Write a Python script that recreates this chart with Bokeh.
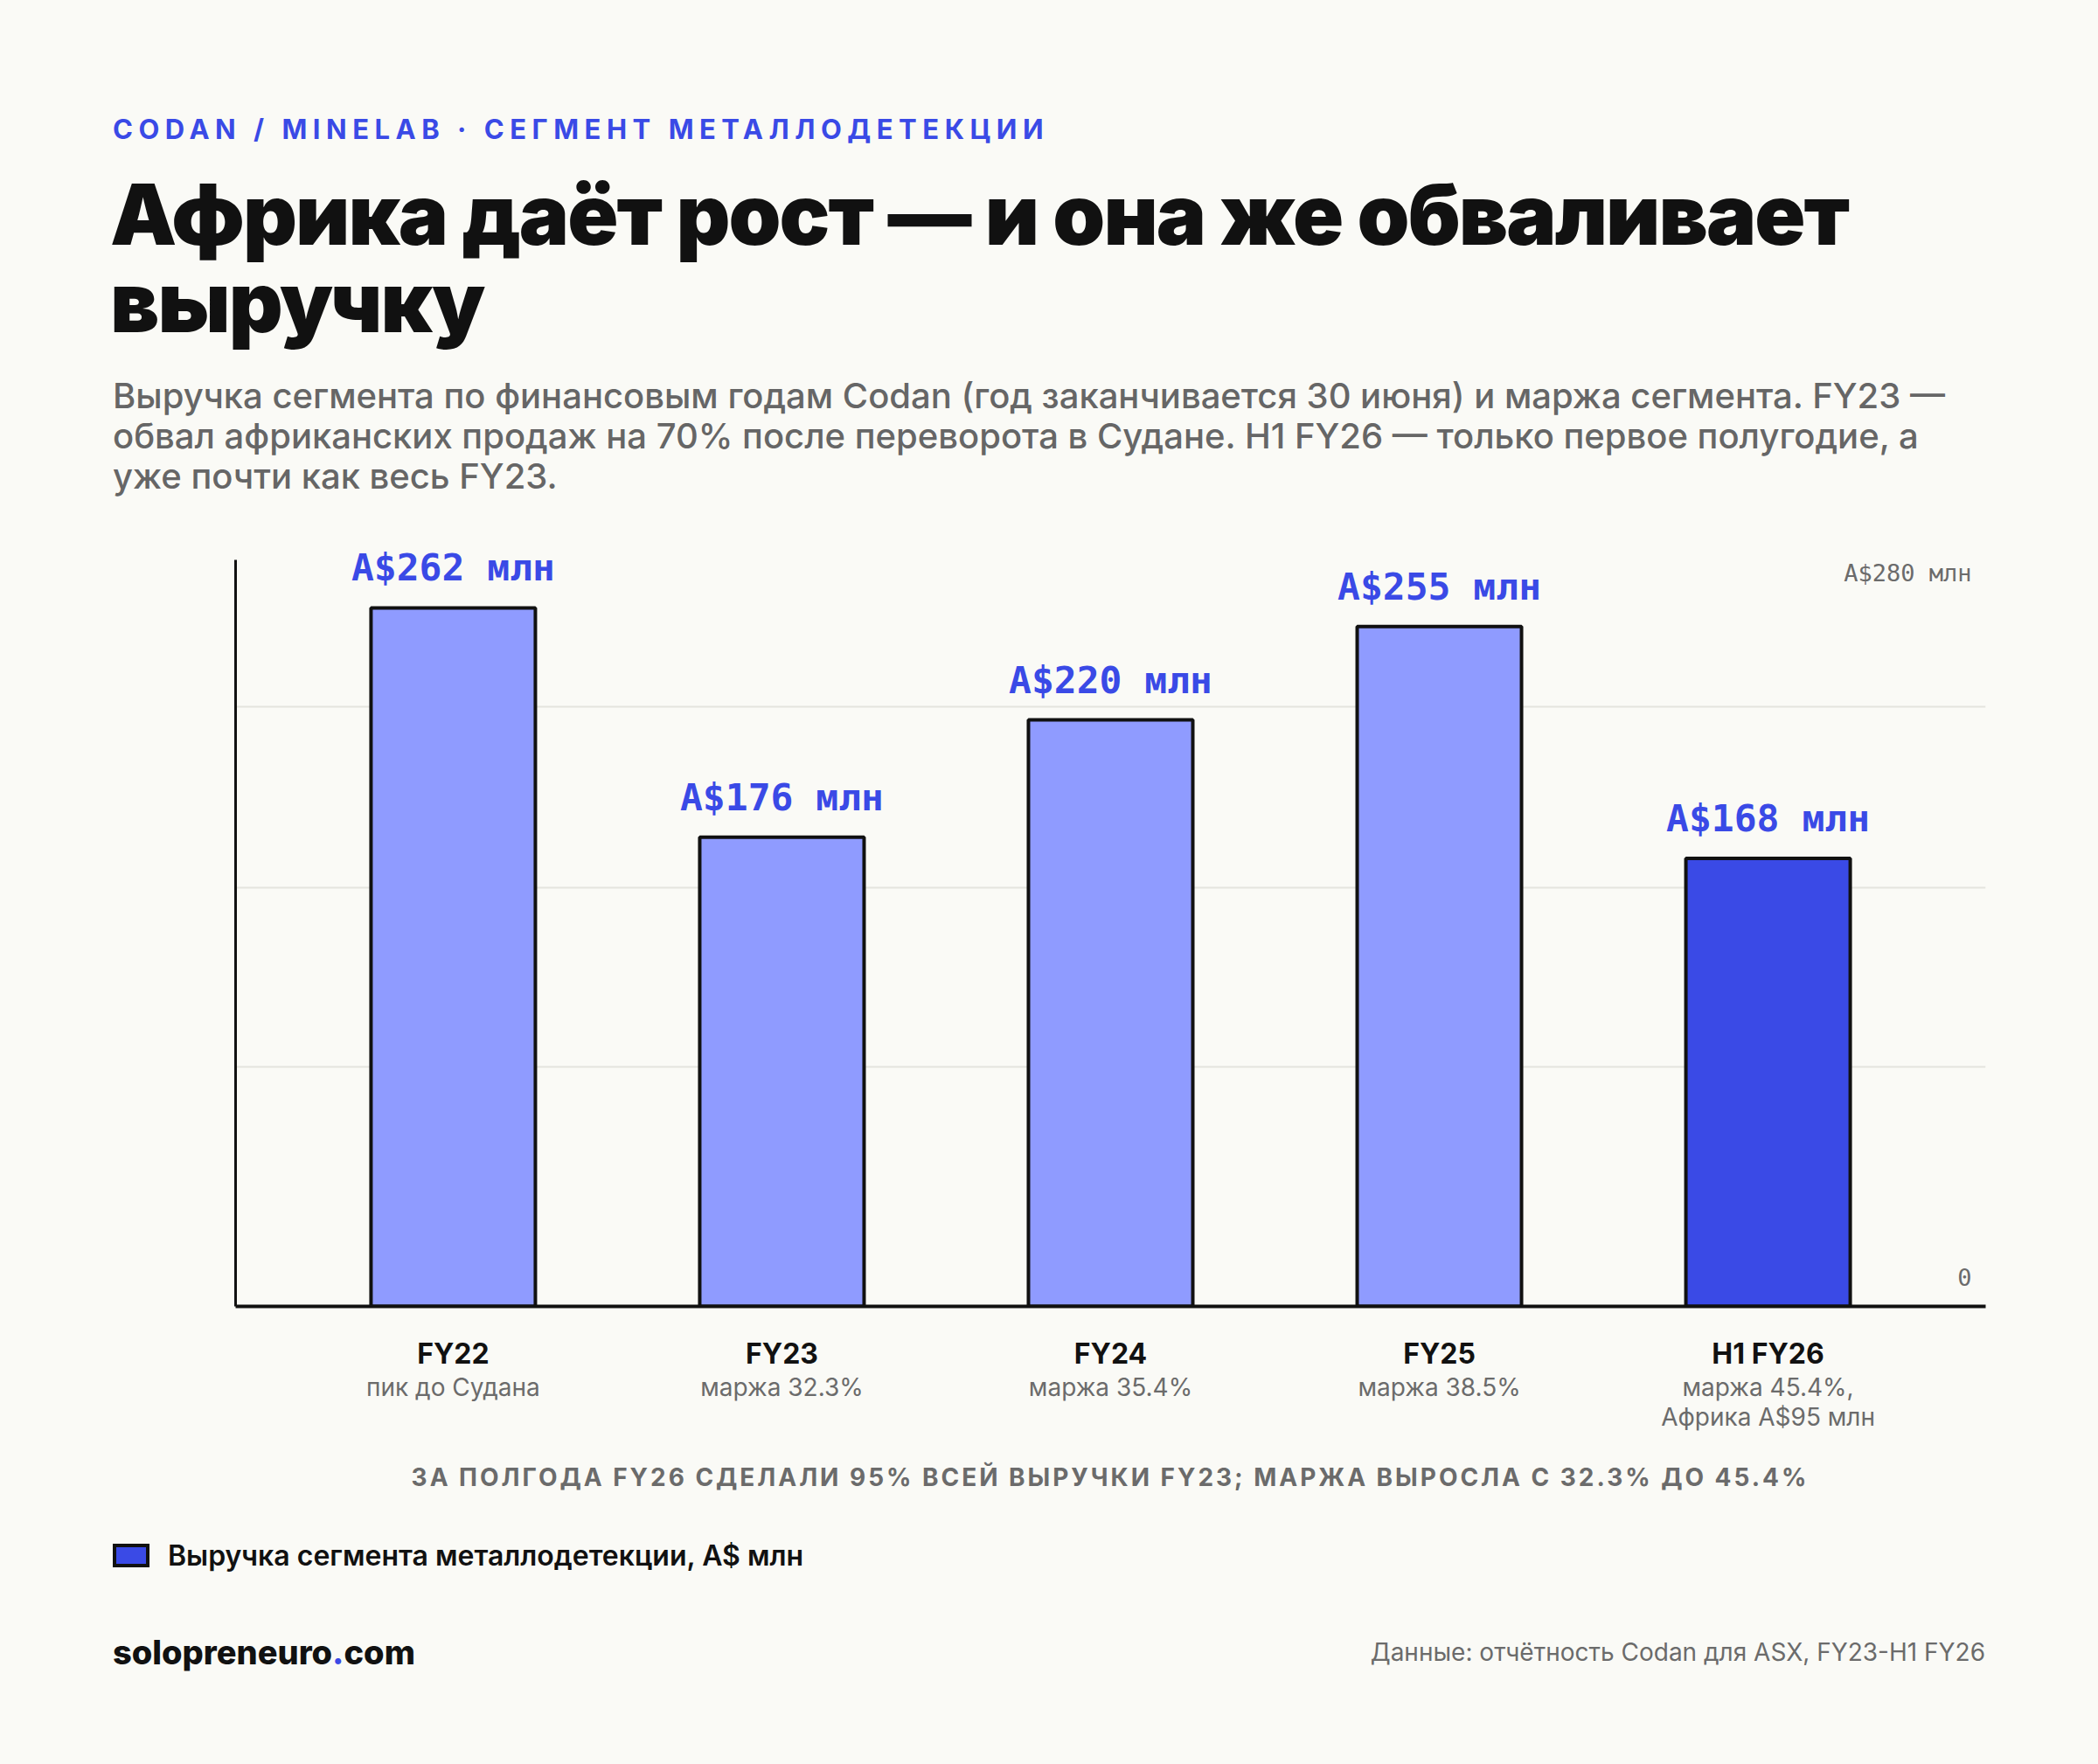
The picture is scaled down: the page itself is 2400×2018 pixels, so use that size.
from bokeh.plotting import figure
from bokeh.models import (ColumnDataSource, LabelSet, FixedTicker, Div, Range1d,
                          FactorRange, CategoricalAxis)
from bokeh.layouts import column
from bokeh.core.properties import value
from bokeh.embed import file_html
from bokeh.resources import INLINE

# ---------------- data ----------------
CATEGORIES = ["FY22", "FY23", "FY24", "FY25", "H1 FY26"]
REVENUE = [262, 176, 220, 255, 168]
SUBLABELS = ["пик до Судана", "маржа 32.3%", "маржа 35.4%", "маржа 38.5%",
             "маржа 45.4%,\nАфрика A$95 млн"]
HIGHLIGHT = [False, False, False, False, True]
Y_MAX = 280
GRID_VALUES = [90, 157, 225]
Y_LABEL_VALUES = [280, 0]
Y_LABELS = ["A$280 млн", "0"]

KICKER = "CODAN / MINELAB · СЕГМЕНТ МЕТАЛЛОДЕТЕКЦИИ"
TITLE = ["Африка даёт рост — и она же обваливает", "выручку"]
SUBTITLE = ["Выручка сегмента по финансовым годам Codan (год заканчивается 30 июня) и маржа сегмента. FY23 —",
            "обвал африканских продаж на 70% после переворота в Судане. H1 FY26 — только первое полугодие, а",
            "уже почти как весь FY23."]
SUMMARY = "ЗА ПОЛГОДА FY26 СДЕЛАЛИ 95% ВСЕЙ ВЫРУЧКИ FY23; МАРЖА ВЫРОСЛА С 32.3% ДО 45.4%"
LEGEND = "Выручка сегмента металлодетекции, A$ млн"
SOURCE = "Данные: отчётность Codan для ASX, FY23-H1 FY26"
SITE = ("solopreneuro", ".", "com")

# ---------------- style ----------------
BG = "#fafaf6"
BLUE = "#3a4ae6"
BAR_LIGHT = "#8f9bff"
INK = "#111111"
GRAY = "#6b6b6b"
GRIDC = "#e4e4de"
FONT = "Inter"
MONO = "DejaVu Sans Mono"
PAD = 0.162            # outer padding of the category axis, in bar steps
FRAME_H = 904          # plot frame height in px (0 .. y end)
PLOT_H = 854           # px from 0 to Y_MAX
Y_END = Y_MAX * FRAME_H / PLOT_H

src = ColumnDataSource(dict(
    cat=CATEGORIES,
    top=REVENUE,
    color=[BLUE if h else BAR_LIGHT for h in HIGHLIGHT],
    label=[f"A${v} млн" for v in REVENUE],
))

p = figure(frame_width=2002, frame_height=FRAME_H,
           x_range=FactorRange(factors=CATEGORIES, range_padding=PAD,
                               range_padding_units="absolute"),
           y_range=Range1d(0, Y_END),
           min_border_left=269, min_border_right=129, min_border_top=10, min_border_bottom=156,
           output_backend="svg", toolbar_location=None, tools="")
p.background_fill_color = BG
p.border_fill_color = BG
p.outline_line_color = None

p.vbar(x="cat", top="top", bottom=0, width=0.5, source=src,
       fill_color="color", line_color=INK, line_width=4)

# x axis: category names
xa = p.xaxis[0]
xa.major_tick_line_color = None
xa.minor_tick_line_color = None
xa.axis_line_color = INK
xa.axis_line_width = 4
xa.major_label_text_font = FONT
xa.major_label_text_font_style = "bold"
xa.major_label_text_font_size = "32px"
xa.major_label_text_color = INK
xa.major_label_standoff = 28

# second x axis on a parallel factor range: notes under each category
p.extra_x_ranges = {"notes": FactorRange(factors=SUBLABELS, range_padding=PAD,
                                         range_padding_units="absolute")}
xa2 = CategoricalAxis(x_range_name="notes")
xa2.axis_line_color = None
xa2.major_tick_line_color = None
xa2.minor_tick_line_color = None
xa2.major_label_text_font = FONT
xa2.major_label_text_font_size = "28px"
xa2.major_label_text_color = GRAY
xa2.major_label_text_line_height = 1.02
xa2.major_label_standoff = -7
p.add_layout(xa2, "below")

# y axis: line only, from 0 to Y_MAX
ya = p.yaxis[0]
ya.ticker = FixedTicker(ticks=[])
ya.bounds = (0, Y_MAX)
ya.major_tick_line_color = None
ya.minor_tick_line_color = None
ya.axis_line_color = INK
ya.axis_line_width = 3
p.xgrid.grid_line_color = None
p.ygrid.ticker = FixedTicker(ticks=GRID_VALUES)
p.ygrid.grid_line_color = GRIDC
p.ygrid.grid_line_width = 2
p.ygrid.level = "underlay"

# value labels above bars
p.add_layout(LabelSet(x="cat", y="top", text="label", source=src, y_offset=31,
                      text_align="center", text_baseline="alphabetic",
                      text_font=value(MONO), text_font_style="bold",
                      text_font_size="43px", text_color=BLUE))
# scale labels inside the plot, right side
X_END = len(CATEGORIES) + PAD
ysrc = ColumnDataSource(dict(x=[X_END] * len(Y_LABELS), y=Y_LABEL_VALUES, text=Y_LABELS,
                             off=[-24 if v == Y_MAX else 24 for v in Y_LABEL_VALUES]))
p.add_layout(LabelSet(x="x", y="y", text="text", source=ysrc, x_offset=-16, y_offset="off",
                      text_align="right", text_baseline="alphabetic",
                      text_font=value(MONO), text_font_size="27px", text_color=GRAY))

header_html = f"""
<div style="position:relative;width:2400px;height:580px;font-family:{FONT},'Noto Sans',sans-serif;">
  <div style="position:absolute;left:129px;top:132px;font-size:31px;line-height:31px;font-weight:700;letter-spacing:0.21em;color:{BLUE};white-space:nowrap;">{KICKER}</div>
  <div style="position:absolute;left:126px;top:195px;font-size:96px;line-height:100px;font-weight:900;letter-spacing:-0.02em;color:{INK};white-space:nowrap;">{TITLE[0]}</div>
  <div style="position:absolute;left:126px;top:295px;font-size:96px;line-height:100px;font-weight:900;letter-spacing:-0.02em;color:{INK};white-space:nowrap;">{TITLE[1]}</div>
  <div style="position:absolute;left:129px;top:430px;font-size:40px;line-height:46px;font-weight:500;color:#666666;white-space:nowrap;">{SUBTITLE[0]}<br>{SUBTITLE[1]}<br>{SUBTITLE[2]}</div>
</div>"""

footer_html = f"""
<div style="position:relative;width:2400px;height:368px;font-family:{FONT},'Noto Sans',sans-serif;">
  <div style="position:absolute;left:269px;width:2002px;top:26px;text-align:center;font-size:28px;line-height:28px;font-weight:700;letter-spacing:0.106em;color:{GRAY};white-space:nowrap;">{SUMMARY}</div>
  <div style="position:absolute;left:129px;top:116px;width:42px;height:27px;box-sizing:border-box;border:4px solid {INK};background:{BLUE};"></div>
  <div style="position:absolute;left:192px;top:111px;font-size:32px;line-height:38px;font-weight:600;color:{INK};white-space:nowrap;">{LEGEND}</div>
  <div style="position:absolute;left:129px;top:220px;font-size:38px;line-height:40px;font-weight:800;color:{INK};white-space:nowrap;">{SITE[0]}<span style="color:{BLUE}">{SITE[1]}</span>{SITE[2]}</div>
  <div style="position:absolute;right:129px;top:225px;font-size:28px;line-height:30px;color:{GRAY};white-space:nowrap;">{SOURCE}</div>
</div>"""

header = Div(text=header_html, width=2400, height=580, margin=0)
footer = Div(text=footer_html, width=2400, height=368, margin=0)

layout = column(header, p, footer, spacing=0, styles={"background-color": BG})
open("out.html", "w").write(file_html(layout, INLINE))
